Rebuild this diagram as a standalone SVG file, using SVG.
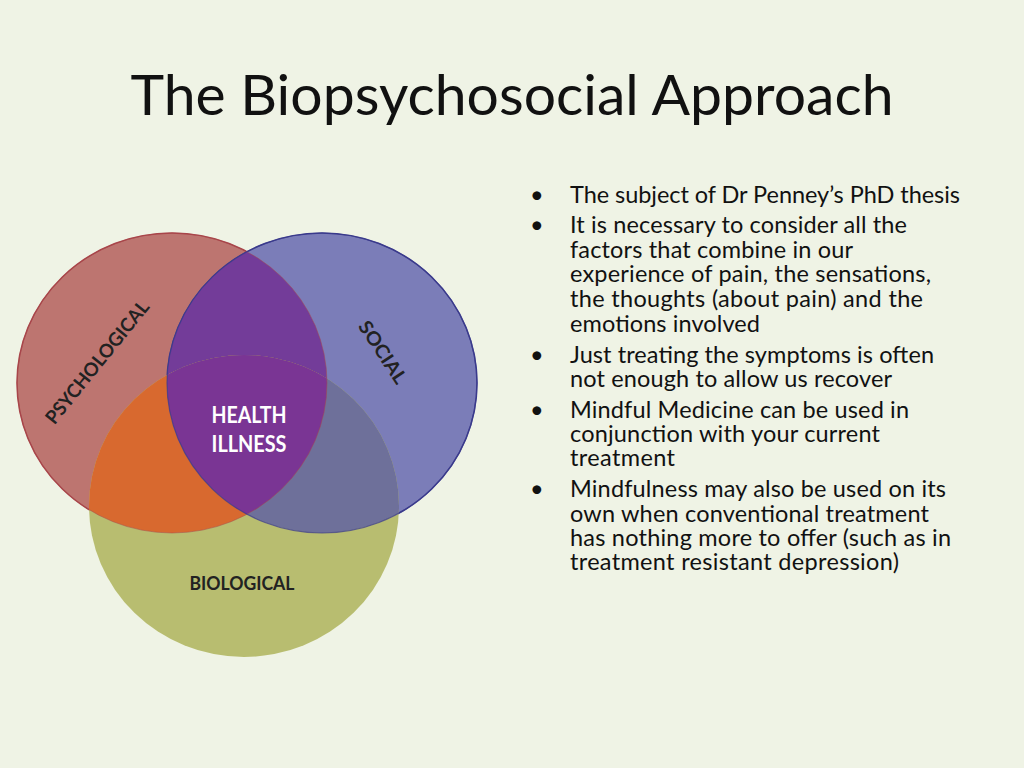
<svg xmlns="http://www.w3.org/2000/svg" width="1024" height="768" viewBox="0 0 1024 768">
<style>
.t{font-family:Lato,"Open Sans","Liberation Sans",sans-serif;fill:#111}
.b{font-size:23.5px}
.lbl{font-family:Lato,"Open Sans","Liberation Sans",sans-serif;font-weight:bold;font-size:19px;fill:#222;text-anchor:middle}
.ctr{font-family:Lato,"Open Sans","Liberation Sans",sans-serif;font-weight:bold;font-size:22px;fill:#fff;text-anchor:middle}
</style>
<defs>
<clipPath id="cr"><ellipse cx="172" cy="383" rx="155" ry="150"/></clipPath>
<clipPath id="cb"><ellipse cx="322" cy="383" rx="155" ry="150"/></clipPath>
</defs>
<rect width="1024" height="768" fill="#eff3e5"/>
<text class="t" x="512" y="115" font-size="57" text-anchor="middle" textLength="763" lengthAdjust="spacingAndGlyphs">The Biopsychosocial Approach</text>
<g id="venn">
<g id="psychological">
<ellipse cx="172" cy="383" rx="155" ry="150" fill="#bd7570" stroke="#a8454a" stroke-width="1.5"/>
</g>
<g id="social">
<ellipse cx="322" cy="383" rx="155" ry="150" fill="#7b7db8" stroke="#3a3a8c" stroke-width="1.5"/>
</g>
<g id="overlap-psych-social" clip-path="url(#cr)">
<ellipse cx="322" cy="383" rx="155" ry="150" fill="#733c99"/>
</g>
<g id="biological">
<ellipse cx="244" cy="506" rx="155" ry="151" fill="#b8bd70"/>
</g>
<g id="overlap-psych-bio" clip-path="url(#cr)">
<ellipse cx="244" cy="506" rx="155" ry="151" fill="#d8692f"/>
</g>
<g id="overlap-social-bio" clip-path="url(#cb)">
<ellipse cx="244" cy="506" rx="155" ry="151" fill="#6e709a"/>
</g>
<g id="center" clip-path="url(#cr)">
<g clip-path="url(#cb)">
<ellipse cx="244" cy="506" rx="155" ry="151" fill="#7a3594"/>
</g>
</g>
<ellipse cx="172" cy="383" rx="155" ry="150" fill="none" stroke="#a8454a" stroke-width="1" opacity="0.5"/>
<ellipse cx="322" cy="383" rx="155" ry="150" fill="none" stroke="#3a3a8c" stroke-width="1.2" opacity="0.7"/>
<text class="lbl" transform="translate(97,362) rotate(-51)" y="7" textLength="152" lengthAdjust="spacingAndGlyphs">PSYCHOLOGICAL</text>
<text class="lbl" transform="translate(383,352) rotate(56.5)" y="7" textLength="71" lengthAdjust="spacingAndGlyphs">SOCIAL</text>
<text class="lbl" x="242" y="590" textLength="105" lengthAdjust="spacingAndGlyphs">BIOLOGICAL</text>
<text class="ctr" x="249" y="423" textLength="75" lengthAdjust="spacingAndGlyphs">HEALTH</text>
<text class="ctr" x="249" y="452" textLength="75" lengthAdjust="spacingAndGlyphs">ILLNESS</text>
</g>
<g id="bullets" class="t b">
<text x="530" y="203">•</text>
<text x="570" y="203" textLength="390">The subject of Dr Penney’s PhD thesis</text>
<text x="530" y="233">•</text>
<text x="570" y="233" textLength="337">It is necessary to consider all the</text>
<text x="570" y="258" textLength="283">factors that combine in our</text>
<text x="570" y="282" textLength="361">experience of pain, the sensations,</text>
<text x="570" y="307" textLength="353">the thoughts (about pain) and the</text>
<text x="570" y="332" textLength="190">emotions involved</text>
<text x="530" y="363">•</text>
<text x="570" y="363" textLength="364">Just treating the symptoms is often</text>
<text x="570" y="387" textLength="322">not enough to allow us recover</text>
<text x="530" y="418">•</text>
<text x="570" y="418" textLength="339">Mindful Medicine can be used in</text>
<text x="570" y="442" textLength="310">conjunction with your current</text>
<text x="570" y="466" textLength="105">treatment</text>
<text x="530" y="497">•</text>
<text x="570" y="497" textLength="376">Mindfulness may also be used on its</text>
<text x="570" y="522" textLength="359">own when conventional treatment</text>
<text x="570" y="546" textLength="381">has nothing more to offer (such as in</text>
<text x="570" y="570" textLength="329">treatment resistant depression)</text>
</g>
</svg>
